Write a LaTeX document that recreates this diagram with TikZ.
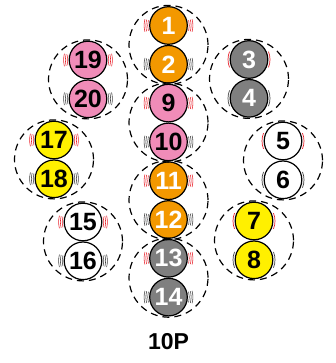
\documentclass[tikz,border=0pt]{standalone}
\usepackage{fontspec}
\usetikzlibrary{calc}
\setmainfont{Liberation Sans}
\definecolor{cor}{HTML}{F39800}
\definecolor{cpk}{HTML}{F08CB8}
\definecolor{cgy}{HTML}{7F7F7F}
\definecolor{cyl}{HTML}{FFF000}
\definecolor{cmr}{HTML}{E8202A}
\definecolor{cmg}{HTML}{404040}
\begin{document}
\begin{tikzpicture}[x=1pt,y=-1pt,
  pinbox/.style={circle,draw=black,line width=1.2pt,minimum size=37.6pt,inner sep=0pt,
    font=\fontsize{25}{25}\selectfont\bfseries},
  grp/.style={circle,draw=black,dashed,dash pattern=on 7pt off 5pt,line width=1.2pt,minimum size=79pt,inner sep=0pt},
  lbl/.style={font=\fontsize{23}{23}\selectfont\bfseries}]
\useasboundingbox (0,0) rectangle (335,363);
% marks: triple arcs
\newcommand{\trip}[2]{%
  \foreach \rr in {20.8,22.6,24.4}{%
    \draw[#2,line width=0.55pt] (#1.center) ++(-15:\rr pt) arc[start angle=-15,end angle=15,radius=\rr pt];
    \draw[#2,line width=0.55pt] (#1.center) ++(165:\rr pt) arc[start angle=165,end angle=195,radius=\rr pt];}}
\newcommand{\sing}[2]{%
    \draw[#2,line width=0.7pt] (#1.center) ++(-22:21pt) arc[start angle=-22,end angle=22,radius=21pt];
    \draw[#2,line width=0.7pt] (#1.center) ++(158:21pt) arc[start angle=158,end angle=202,radius=21pt];}
% central column
\node[pinbox,fill=cor,text=white] (p1) at (168.5,25.5) {1};
\node[pinbox,fill=cor,text=white] (p2) at (168.5,64.3) {2};
\node[pinbox,fill=cpk,text=black] (p9) at (168.5,103.1) {9};
\node[pinbox,fill=cpk,text=black] (p10) at (168.5,141.9) {10};
\node[pinbox,fill=cor,text=white] (p11) at (168.5,180.7) {11};
\node[pinbox,fill=cor,text=white] (p12) at (168.5,219.5) {12};
\node[pinbox,fill=cgy,text=white] (p13) at (168.5,258.3) {13};
\node[pinbox,fill=cgy,text=white] (p14) at (168.5,297.1) {14};
% left side
\node[pinbox,fill=cpk,text=black] (p19) at (88,60) {19};
\node[pinbox,fill=cpk,text=black] (p20) at (88,98.8) {20};
\node[pinbox,fill=cyl,text=black] (p17) at (54,140) {17};
\node[pinbox,fill=cyl,text=black] (p18) at (54,178.8) {18};
\node[pinbox,fill=white,text=black] (p15) at (83,222) {15};
\node[pinbox,fill=white,text=black] (p16) at (83,260.8) {16};
% right side
\node[pinbox,fill=cgy,text=white] (p3) at (249,59.5) {3};
\node[pinbox,fill=cgy,text=white] (p4) at (249,98.3) {4};
\node[pinbox,fill=white,text=black] (p5) at (283,141) {5};
\node[pinbox,fill=white,text=black] (p6) at (283,179.8) {6};
\node[pinbox,fill=cyl,text=black] (p7) at (254,221) {7};
\node[pinbox,fill=cyl,text=black] (p8) at (254,259.8) {8};
% dashed groups
\foreach \a/\b in {1/2,9/10,11/12,13/14,19/20,17/18,15/16,3/4,5/6,7/8}{
  \node[grp] (g\a) at ($(p\a)!0.5!(p\b)$) {};}
% marks
\foreach \n in {1,9,11,13,19,17,15}{\trip{p\n}{cmr}}
\foreach \n in {2,10,12,14,20,18,16}{\trip{p\n}{cmg}}
\foreach \n in {3,5,7}{\sing{p\n}{cmr}}
\foreach \n in {4,6,8}{\sing{p\n}{cmg}}
\node[lbl] (title) at (168.5,342) {10P};
\end{tikzpicture}
\end{document}
